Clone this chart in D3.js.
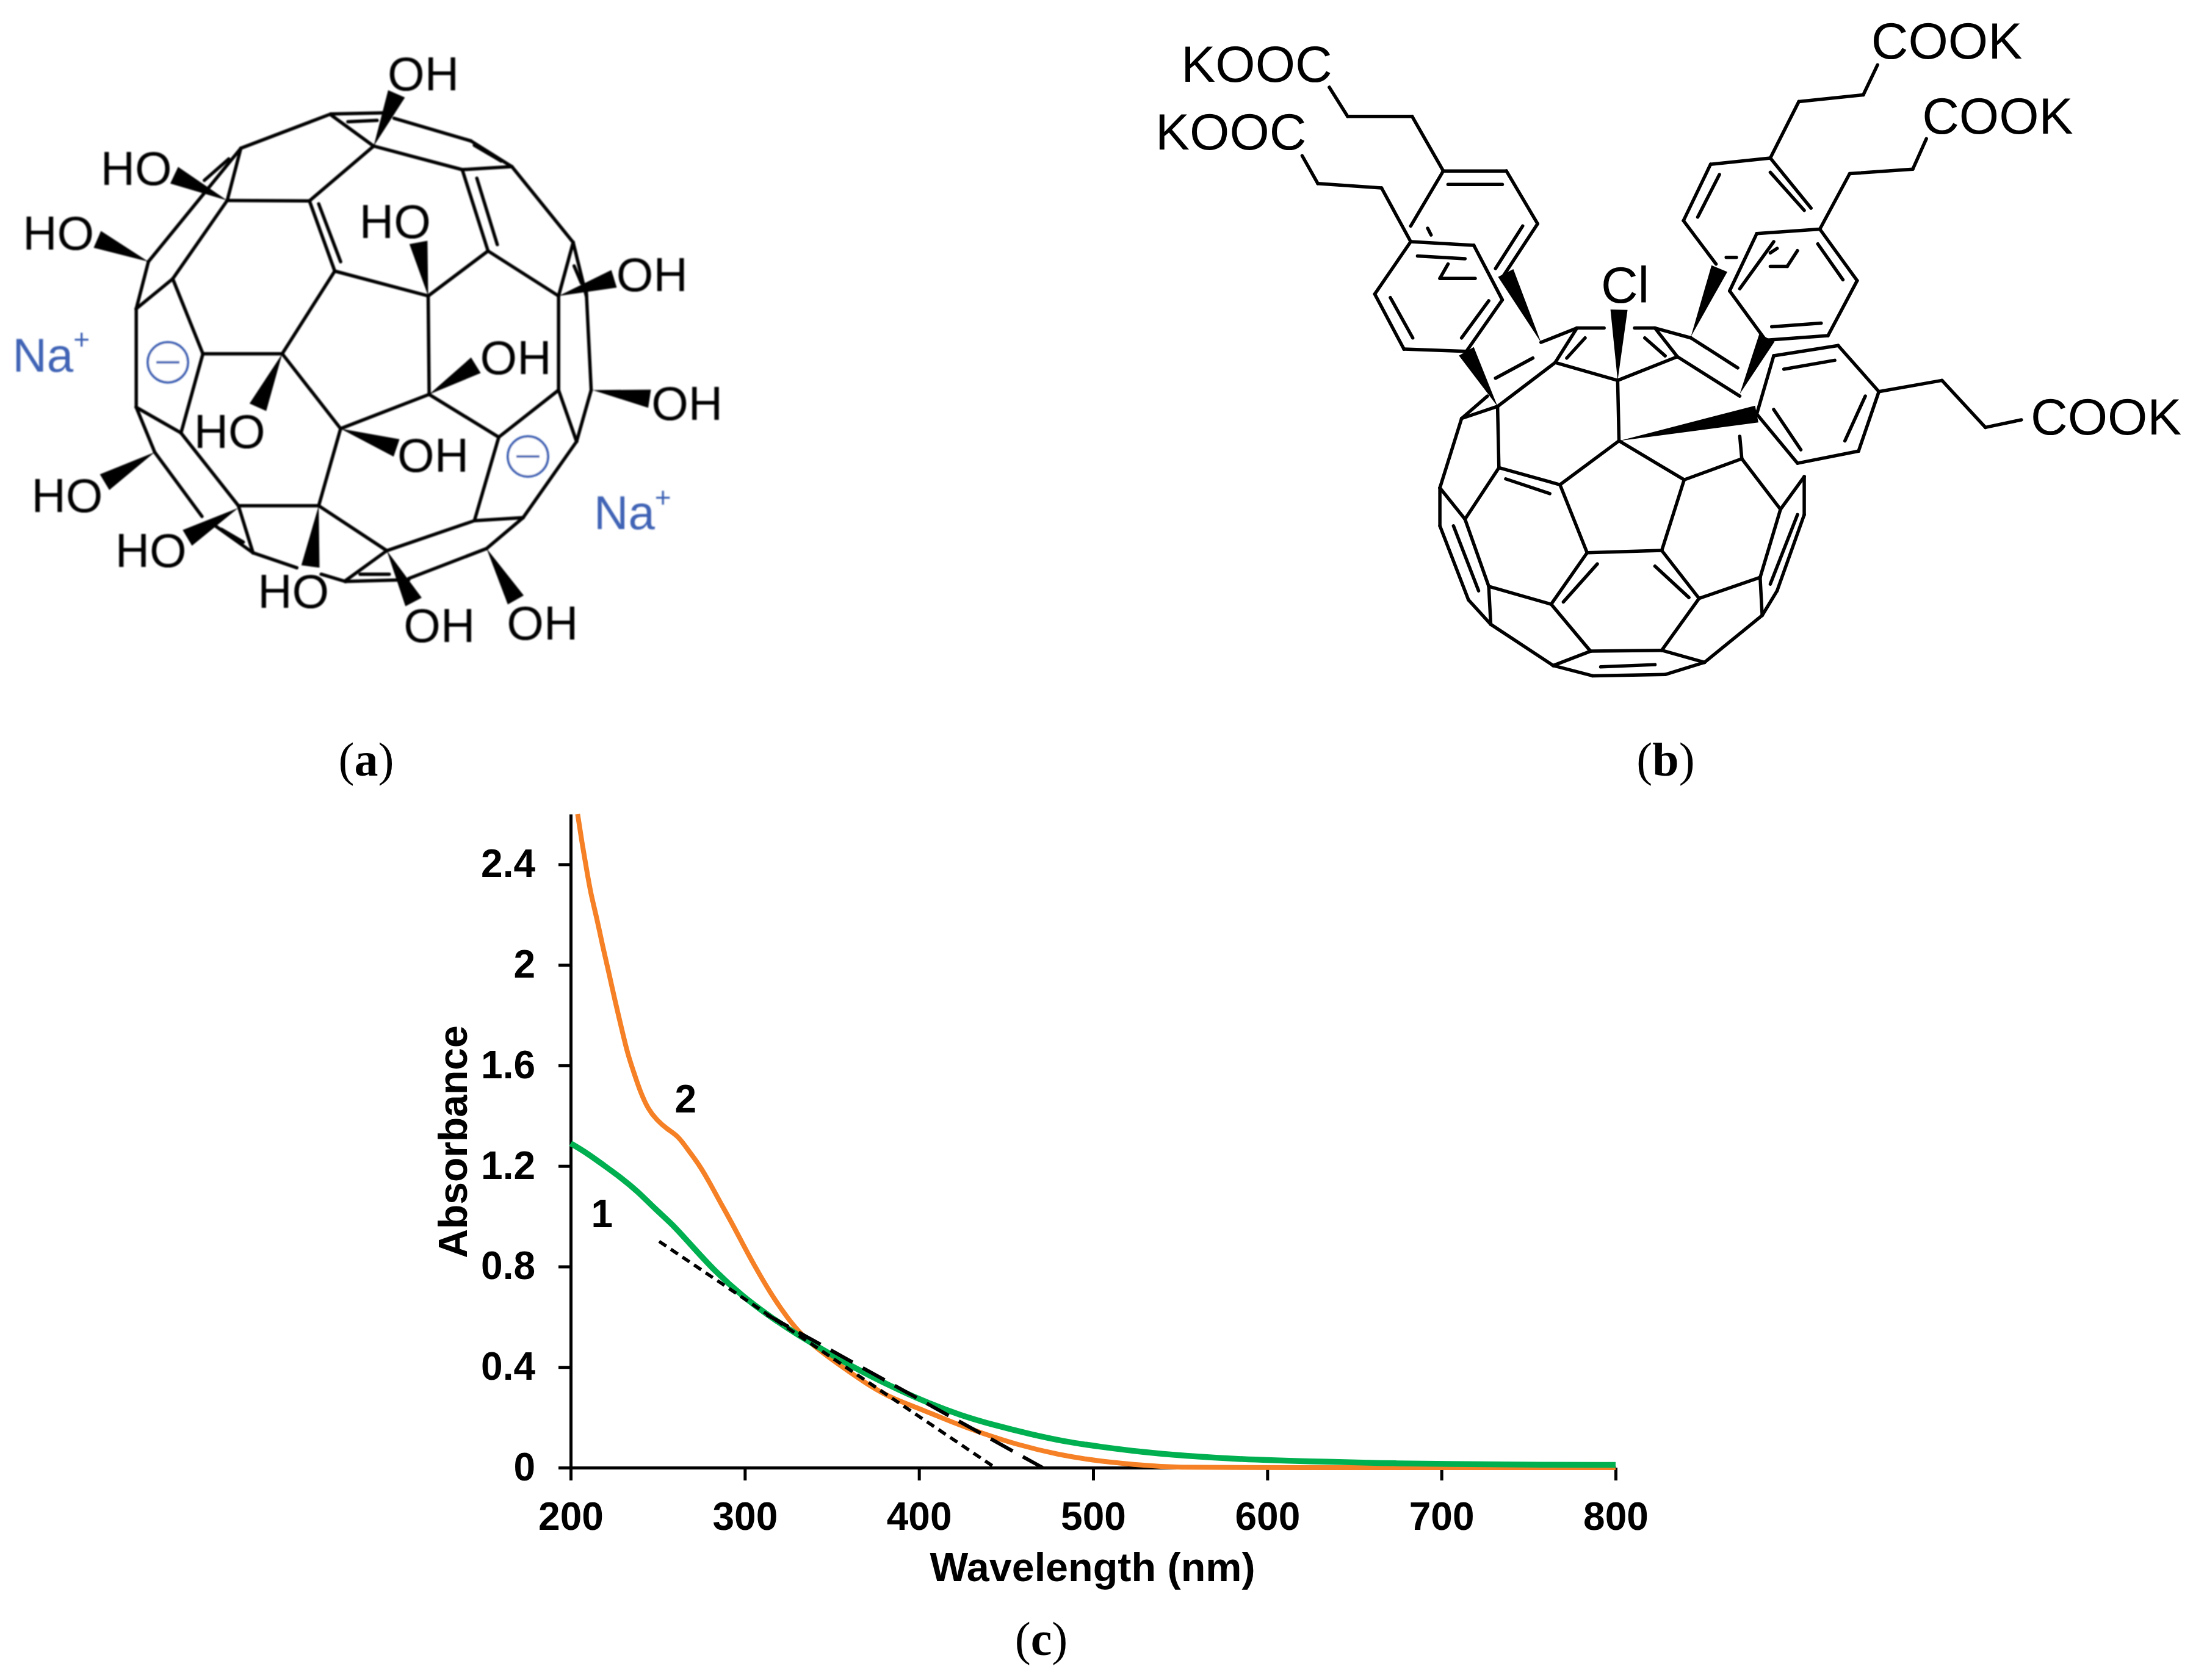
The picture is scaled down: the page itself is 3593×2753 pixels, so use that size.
<!DOCTYPE html>
<html>
<head>
<meta charset="utf-8">
<script src="https://cdn.jsdelivr.net/npm/d3@7"></script>
<style>
  html, body { margin: 0; background: #fff; }
  text { font-family: "Liberation Sans", Arial, sans-serif; }
</style>
</head>
<body>
<script>
// Spectra: wavelength (nm), absorbance
const wavelength1 = [200,209,219,229,238.7,248.5,258.3,267,283,299,315,331,347.4,363.5,383.5,403.7,423.8,443.7,464,484,504,528,552,584.5,624.7,665,705,746,800];
const absorbance1 = [1.29,1.253,1.203,1.153,1.098,1.029,.969,.902,.779,.68,.598,.525,.459,.395,.325,.261,.208,.168,.133,.103,.083,.062,.047,.033,.025,.018,.014,.012,.0107];
const wavelength2 = [204,206.5,209,211.4,215,218.3,221.7,225.4,229,232.8,236.5,239.7,244.5,249.4,255.6,261.7,267.9,274,280.2,286.4,292.5,298.6,305,315,325,333,343,355,369.5,383.5,399.6,419.6,435.7,456,480,504,528,544.4,600,800];
const absorbance2 = [2.6,2.485,2.386,2.287,2.187,2.076,1.976,1.859,1.754,1.643,1.568,1.5,1.425,1.383,1.345,1.32,1.259,1.203,1.129,1.049,.974,.893,.81,.69,.59,.525,.465,.405,.335,.278,.237,.179,.138,.092,.051,.025,.01,0,0,0];

// Tangent lines: [wavelength, absorbance] at both ends
const shortDashLine = [[250.8,.9],[443.7,0]];
const longDashLine = [[307,.63],[471,0]];

const xTicks = [200,300,400,500,600,700,800];
const yTicks = [0,.4,.8,1.2,1.6,2,2.4];
const curveLabels = [["1",218,1.012],["2",266,1.47]];

// Structure (a), drawing units: x1,y1,x2,y2
const bondsA = [
[680,195,495,275],[680,195,800,192],[715,213,775,210],[810,205,968,258],[680,197,768,270],[768,270,950,325],
[950,325,1052,318],[968,258,1052,318],[975,268,1030,305],[1052,318,1178,495],[950,325,1003,515],[980,345,1022,500],
[1003,515,1148,620],[1003,515,880,620],[880,620,688,562],[636,398,688,562],[655,405,700,540],[768,270,636,398],
[636,398,467,397],[495,275,467,397],[495,275,305,540],[470,300,420,350],[467,397,355,580],[355,580,280,650],
[305,540,280,650],[355,580,417,755],[280,650,280,880],[417,755,580,755],[417,755,372,940],[280,880,372,940],
[280,880,318,985],[372,940,490,1110],[318,985,415,1135],[440,1155,520,1220],[455,1165,500,1195],[490,1110,655,1110],
[490,1110,520,1220],[520,1220,610,1255],[655,1110,700,930],[655,1110,795,1215],[795,1215,710,1285],[660,1270,710,1287],
[710,1287,840,1283],[740,1270,800,1270],[840,1280,1000,1210],[795,1215,975,1145],[975,1145,1075,1138],[1000,1210,1075,1138],
[1075,1138,1185,960],[975,1145,1025,950],[1025,950,882,850],[1025,950,1148,840],[1148,840,1185,960],[1215,840,1185,960],
[1148,840,1148,620],[1215,840,1205,610],[1205,620,1178,495],[1178,495,1148,620],[1180,550,1195,590],[880,620,882,850],
[882,850,700,930],[700,930,580,755],[580,755,688,562]];
// tip x,y then wide end x,y
const wedgesA = [
[768,270,815,148],[467,397,358,338],[305,540,200,488],[880,620,860,495],[1148,620,1262,580],[882,850,978,782],[580,755,530,880],
[700,930,815,975],[1218,840,1335,860],[318,985,215,1055],[490,1115,385,1185],[655,1110,638,1252],[795,1215,850,1335],[1000,1210,1060,1330]];
const labelsA = [
["OH",870,100],["HO",280,320],["HO",120,472],["HO",812,445],["OH",1340,568],["OH",1060,762],["HO",472,935],
["OH",890,990],["OH",1412,870],["HO",138,1085],["HO",310,1213],["HO",603,1308],["OH",903,1388],["OH",1115,1382]];
const sodiumA = [[105,757],[1300,1125]];
const chargesA = [[345,775],[1085,995]];

// Structure (b)
const bondsB = [
[295,195,322,260],[322,260,417,260],[417,260,463,382],[463,382,556,382],[556,382,602,500],[602,500,550,620],[463,382,415,505],
[470,412,550,412],[580,505,540,600],[440,510,445,525],
[255,348,278,410],[278,410,372,420],[372,420,415,540],[415,540,508,548],[508,548,550,670],[550,670,497,785],[497,785,405,780],
[405,780,362,657],[362,657,415,540],[425,572,495,578],[530,672,490,755],[385,665,418,755],[458,622,510,622],[458,622,470,590],
[607,765,660,733],[660,733,700,733],[745,733,775,733],[775,733,828,755],[660,733,628,810],[672,755,645,800],[628,810,720,850],
[720,850,808,797],[808,797,775,733],[760,755,790,795],[628,810,543,908],[595,800,540,845],[828,755,897,822],[808,797,900,885],
[720,850,722,985],[543,908,490,935],[528,885,490,935],[543,908,545,1045],[490,935,458,1090],[722,985,635,1083],[722,985,818,1072],
[545,1045,635,1083],[555,1070,620,1103],[545,1045,495,1160],[458,1090,495,1160],[458,1090,458,1175],[458,1175,500,1340],
[500,1340,533,1395],[495,1160,530,1310],[530,1310,533,1395],[478,1175,515,1320],[530,1310,622,1350],[635,1083,675,1235],
[818,1072,785,1230],[818,1072,903,1025],[903,1025,960,1138],[903,1025,900,975],[675,1235,785,1230],[675,1235,622,1350],
[690,1260,640,1345],[785,1230,840,1337],[775,1265,825,1335],[622,1350,680,1455],[840,1337,785,1453],[680,1455,785,1453],
[533,1395,625,1487],[625,1487,680,1455],[625,1487,683,1510],[683,1510,790,1507],[790,1507,848,1480],[848,1480,785,1453],
[695,1490,775,1485],[848,1480,933,1375],[933,1375,930,1290],[840,1337,930,1290],[930,1290,960,1138],[933,1375,955,1320],
[955,1320,995,1150],[995,1065,995,1150],[960,1138,995,1065],[985,1150,945,1305],
[1018,512,925,522],[925,522,885,650],[885,650,938,760],[938,760,1030,750],[1030,750,1073,627],[1073,627,1018,512],
[1015,545,1052,625],[947,730,1020,722],[900,645,950,540],[1018,512,1062,388],[1062,388,1155,378],[1155,378,1175,310],
[945,353,857,367],[857,367,817,493],[817,493,865,590],[945,353,1005,465],[870,390,838,485],[945,385,995,470],
[945,353,987,227],[987,227,1082,212],[1082,212,1103,145],[880,575,895,575],[945,595,970,595],[970,595,985,560],[945,565,955,555],
[925,925,950,795],[950,795,1045,772],[1045,772,1105,875],[1105,875,1075,1008],[1075,1008,985,1035],[985,1035,925,925],
[965,825,1040,805],[1085,885,1055,985],[950,915,990,1005],[1105,875,1198,850],[1198,850,1262,955],[1262,955,1315,938]];
const wedgesB = [
[607,765,555,610],[543,908,497,785],[720,850,722,692],[722,985,925,925],[828,752,870,600],[900,880,940,755]];
const labelsB = [
["KOOC",188,142],["KOOC",150,293],["COOK",1205,90],["COOK",1280,258],["COOK",1440,930],["Cl",731,635]];

const captions = [["a",600,1248],["b",2729,1248],["c",1706,2689]];

const width = 3593;
const height = 2753;

const svg = d3.select("body")
  .append("svg")
  .attr("width", width)
  .attr("height", height)
  .attr("viewBox", "0 0 " + width + " " + height)
  .style("display", "block");

svg.append("defs").append("filter")
  .attr("id", "soft")
  .append("feGaussianBlur")
  .attr("stdDeviation", 1.2);

// Draw one structure: scales take drawing units to the page
function drawStructure(x, y, bonds, wedges, labels, strokeWidth, wedgeWidth, fontSize) {
  const g = svg.append("g");

  g.selectAll("line")
    .data(bonds)
    .enter()
    .append("line")
    .attr("x1", d => x(d[0]))
    .attr("y1", d => y(d[1]))
    .attr("x2", d => x(d[2]))
    .attr("y2", d => y(d[3]))
    .attr("stroke", "#000")
    .attr("stroke-width", strokeWidth)
    .attr("stroke-linecap", "round");

  g.selectAll("polygon")
    .data(wedges)
    .enter()
    .append("polygon")
    .attr("points", d => {
      const x0 = x(d[0]), y0 = y(d[1]), x1 = x(d[2]), y1 = y(d[3]);
      const len = Math.hypot(x1 - x0, y1 - y0);
      const nx = -(y1 - y0) / len * wedgeWidth / 2;
      const ny = (x1 - x0) / len * wedgeWidth / 2;
      return [[x0, y0], [x1 + nx, y1 + ny], [x1 - nx, y1 - ny]].join(" ");
    })
    .attr("fill", "#000");

  g.selectAll("text")
    .data(labels)
    .enter()
    .append("text")
    .attr("x", d => x(d[1]))
    .attr("y", d => y(d[2]))
    .attr("dy", "0.36em")
    .attr("text-anchor", "middle")
    .attr("font-size", fontSize)
    .text(d => d[0]);

  return g;
}

const xA = d3.scaleLinear().domain([0, 1568]).range([0, 1250]);
const yA = d3.scaleLinear().domain([0, 1568]).range([50, 1150]);
const groupA = drawStructure(xA, yA, bondsA, wedgesA, labelsA, 5.5, 30, 78);
groupA.attr("filter", "url(#soft)");

const blue = "#3f63b5";
const sodium = groupA.selectAll(".na")
  .data(sodiumA)
  .enter()
  .append("text")
  .attr("class", "na")
  .attr("x", d => xA(d[0]))
  .attr("y", d => yA(d[1]))
  .attr("dy", "0.36em")
  .attr("text-anchor", "middle")
  .attr("fill", blue)
  .attr("font-size", 78);
sodium.append("tspan").text("Na");
sodium.append("tspan").attr("font-size", 46).attr("dy", "-0.8em").text("+");

const charges = groupA.selectAll(".charge")
  .data(chargesA)
  .enter()
  .append("g")
  .attr("class", "charge")
  .attr("transform", d => "translate(" + xA(d[0]) + "," + yA(d[1]) + ")");
charges.append("circle")
  .attr("r", 33)
  .attr("fill", "#fff")
  .attr("stroke", blue)
  .attr("stroke-width", 4);
charges.append("line")
  .attr("x1", -19)
  .attr("x2", 19)
  .attr("stroke", blue)
  .attr("stroke-width", 4);

const xB = d3.scaleLinear().domain([0, 1568]).range([1850, 3593]);
const yB = d3.scaleLinear().domain([0, 1568]).range([0, 1150]);
drawStructure(xB, yB, bondsB, wedgesB, labelsB, 5.5, 28, 84);

// Panel captions
const captionText = svg.selectAll(".caption")
  .data(captions)
  .enter()
  .append("text")
  .attr("class", "caption")
  .attr("x", d => d[1])
  .attr("y", d => d[2])
  .attr("dy", "0.3em")
  .attr("text-anchor", "middle")
  .attr("font-size", 78)
  .style("font-family", "'Liberation Serif', serif");
captionText.append("tspan").text("(");
captionText.append("tspan").attr("font-weight", "bold").text(d => d[0]);
captionText.append("tspan").text(")");

// Chart (c)
const xScale = d3.scaleLinear().domain([200, 800]).range([935, 2647]);
const yScale = d3.scaleLinear().domain([0, 2.6]).range([2405, 1334]);

const line = d3.line()
  .x(d => xScale(d[0]))
  .y(d => yScale(d[1]))
  .curve(d3.curveBasis);

const xAxis = d3.axisBottom(xScale)
  .tickValues(xTicks)
  .tickFormat(d3.format("d"))
  .tickSizeInner(21)
  .tickSizeOuter(0)
  .tickPadding(36);

const yAxis = d3.axisLeft(yScale)
  .tickValues(yTicks)
  .tickFormat(d => String(d))
  .tickSizeInner(20)
  .tickSizeOuter(0)
  .tickPadding(38);

const axes = [
  svg.append("g").attr("transform", "translate(0," + yScale(0) + ")").call(xAxis),
  svg.append("g").attr("transform", "translate(" + xScale(200) + ",0)").call(yAxis)
];
axes.forEach(a => {
  a.selectAll("path, line").attr("stroke", "#000").attr("stroke-width", 5);
  a.selectAll("text")
    .attr("font-size", 64)
    .attr("font-weight", "bold")
    .attr("fill", "#000")
    .style("font-family", "'Liberation Sans', Arial, sans-serif");
});

svg.append("path")
  .attr("d", line(wavelength2.map((w, i) => [w, absorbance2[i]])))
  .attr("fill", "none")
  .attr("stroke", "#F58025")
  .attr("stroke-width", 8);

svg.append("path")
  .attr("d", line(wavelength1.map((w, i) => [w, absorbance1[i]])))
  .attr("fill", "none")
  .attr("stroke", "#00B050")
  .attr("stroke-width", 9.5);

svg.append("path")
  .attr("d", d3.line().x(d => xScale(d[0])).y(d => yScale(d[1]))(shortDashLine))
  .attr("fill", "none")
  .attr("stroke", "#000")
  .attr("stroke-width", 5.5)
  .attr("stroke-dasharray", "14 9");

svg.append("path")
  .attr("d", d3.line().x(d => xScale(d[0])).y(d => yScale(d[1]))(longDashLine))
  .attr("fill", "none")
  .attr("stroke", "#000")
  .attr("stroke-width", 6)
  .attr("stroke-dasharray", "41 19")
  .attr("stroke-dashoffset", 42);

svg.selectAll(".curve-label")
  .data(curveLabels)
  .enter()
  .append("text")
  .attr("class", "curve-label")
  .attr("x", d => xScale(d[1]))
  .attr("y", d => yScale(d[2]))
  .attr("dy", "0.36em")
  .attr("text-anchor", "middle")
  .attr("font-size", 64)
  .attr("font-weight", "bold")
  .text(d => d[0]);

svg.append("text")
  .attr("x", 1790)
  .attr("y", 2591)
  .attr("text-anchor", "middle")
  .attr("font-size", 66.5)
  .attr("font-weight", "bold")
  .text("Wavelength (nm)");

svg.append("text")
  .attr("transform", "translate(765,1871) rotate(-90)")
  .attr("text-anchor", "middle")
  .attr("font-size", 66)
  .attr("font-weight", "bold")
  .text("Absorbance");
</script>
</body>
</html>
